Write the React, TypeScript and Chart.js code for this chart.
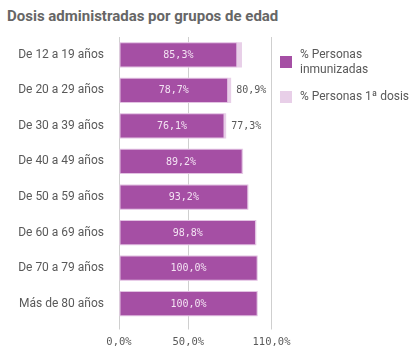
import React, { useEffect, useRef } from "react";
import { Chart, registerables } from "chart.js";

Chart.register(...registerables);

const categories = [
  "De 12 a 19 años",
  "De 20 a 29 años",
  "De 30 a 39 años",
  "De 40 a 49 años",
  "De 50 a 59 años",
  "De 60 a 69 años",
  "De 70 a 79 años",
  "Más de 80 años",
];
const inmunizadas = [85.3, 78.7, 76.1, 89.2, 93.2, 98.8, 100.0, 100.0];
const primeraDosis = [88.7, 80.9, 77.3, 89.5, 93.4, 99.1, 100.0, 100.0];
const xTicks = [0, 50, 110];

const DARK = "#a54fa4";
const LIGHT = "#e8cfe8";
const TEXT = "#595959";
const MONO = "'DejaVu Sans Mono', 'Liberation Mono', monospace";
const SANS = "Roboto, 'Noto Sans', sans-serif";

const fmt = (v: number) => v.toFixed(1).replace(".", ",") + "%";

const labelPlugin = {
  id: "barLabels",
  afterDatasetsDraw(chart: any) {
    const ctx = chart.ctx;
    const area = chart.chartArea;
    ctx.save();
    ctx.font = `10px ${MONO}`;
    ctx.textBaseline = "middle";
    const metaDark = chart.getDatasetMeta(0);
    const metaLight = chart.getDatasetMeta(1);
    metaDark.data.forEach((bar: any, i: number) => {
      const base = bar.base;
      ctx.fillStyle = "#f3e3f3";
      ctx.textAlign = "center";
      ctx.fillText(fmt(inmunizadas[i]), (base + bar.x) / 2, bar.y + 0.5);
    });
    metaLight.data.forEach((bar: any, i: number) => {
      const v = primeraDosis[i];
      if (v - inmunizadas[i] < 1) return;
      const t = fmt(v);
      const w = ctx.measureText(t).width;
      const x = bar.x + 5;
      if (x + w > area.right) return;
      ctx.fillStyle = TEXT;
      ctx.textAlign = "left";
      ctx.fillText(t, x, bar.y + 0.5);
    });
    ctx.restore();
  },
};

export default function App() {
  const ref = useRef<HTMLCanvasElement>(null);
  useEffect(() => {
    if (!ref.current) return;
    const chart = new Chart(ref.current, {
      type: "bar",
      data: {
        labels: categories,
        datasets: [
          {
            label: "% Personas inmunizadas",
            data: inmunizadas,
            backgroundColor: DARK,
            borderColor: "#e2c2e2",
            borderWidth: 1,
            borderSkipped: false,
            order: 0,
            categoryPercentage: 1,
            barPercentage: 0.71,
          },
          {
            label: "% Personas 1ª dosis",
            data: primeraDosis,
            backgroundColor: LIGHT,
            borderWidth: 0,
            order: 1,
            categoryPercentage: 1,
            barPercentage: 0.71,
          },
        ],
      },
      options: {
        indexAxis: "y",
        animation: false,
        responsive: false,
        maintainAspectRatio: false,
        layout: { padding: { left: 0, right: 140.5, top: 37, bottom: 0 } },
        plugins: {
          legend: { display: false },
          tooltip: { enabled: false },
          title: { display: false },
        },
        scales: {
          x: {
            min: 0,
            max: 110,
            stacked: false,
            afterBuildTicks: (axis: any) => {
              axis.ticks = xTicks.map((v) => ({ value: v }));
            },
            afterFit: (scale: any) => {
              scale.height = 34.5;
            },
            grid: {
              color: "#cfcfcf",
              lineWidth: 1,
              tickLength: 8,
              drawTicks: true,
            },
            border: { display: false },
            ticks: {
              color: TEXT,
              font: { family: MONO, size: 10.5 },
              padding: 6,
              maxRotation: 0,
              callback: (v: any) => fmt(Number(v)),
            },
          },
          y: {
            stacked: true,
            afterFit: (scale: any) => {
              scale.width = 119;
            },
            grid: { display: false },
            border: { display: false },
            ticks: {
              color: TEXT,
              font: { family: SANS, size: 12 },
              padding: 7,
            },
          },
        },
      },
      plugins: [labelPlugin],
    } as any);
    return () => chart.destroy();
  }, []);

  const legendItem = (color: string, lines: string[], top: number) => (
    <div
      style={{
        position: "absolute",
        left: 280,
        top,
        display: "flex",
        alignItems: "center",
      }}
    >
      <div style={{ width: 12, height: 12, background: color, flex: "none" }} />
      <div
        style={{
          marginLeft: 8,
          fontFamily: SANS,
          fontSize: 12,
          lineHeight: "15px",
          color: TEXT,
          whiteSpace: "nowrap",
        }}
      >
        {lines.map((l, i) => (
          <div key={i}>{l}</div>
        ))}
      </div>
    </div>
  );

  return (
    <div
      style={{
        position: "absolute",
        left: 0,
        top: 0,
        width: 412,
        height: 356,
        background: "#ffffff",
        overflow: "hidden",
      }}
    >
      <div
        style={{
          position: "absolute",
          left: 7,
          top: 7,
          fontFamily: SANS,
          fontWeight: "bold",
          fontSize: 15,
          color: "#666666",
          whiteSpace: "nowrap",
        }}
      >
        Dosis administradas por grupos de edad
      </div>
      <canvas
        ref={ref}
        width={412}
        height={356}
        style={{ position: "absolute", left: 0, top: 0, width: 412, height: 356 }}
      />
      {legendItem(DARK, ["% Personas", "inmunizadas"], 47)}
      {legendItem(LIGHT, ["% Personas 1ª dosis"], 89)}
    </div>
  );
}
